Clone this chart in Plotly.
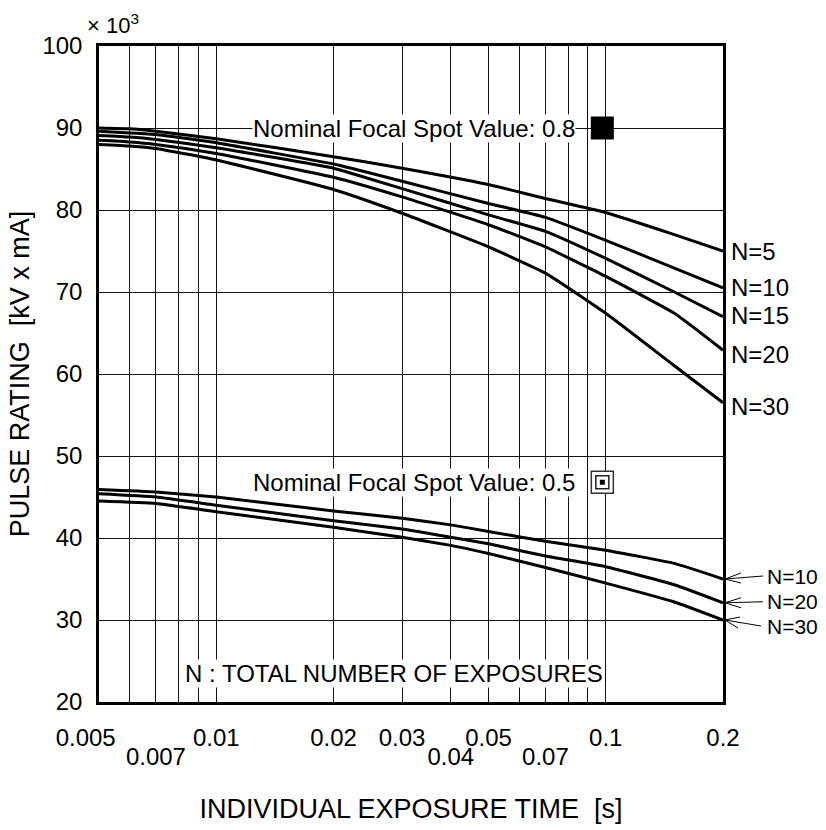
import plotly.graph_objects as go
import math

# ---------------- data ----------------
time_upper = [0.005, 0.006, 0.007, 0.01, 0.02, 0.03, 0.05, 0.07, 0.1, 0.15, 0.2]
upper_N = ["N=5", "N=10", "N=15", "N=20", "N=30"]
upper_vals = {
    "N=5":  [90.0, 89.9, 89.6, 88.7, 86.5, 85.1, 83.1, 81.4, 79.7, 77.0, 75.0],
    "N=10": [89.6, 89.4, 89.2, 88.2, 85.6, 83.5, 80.8, 79.1, 76.3, 72.9, 70.5],
    "N=15": [89.1, 88.9, 88.6, 87.6, 85.1, 82.6, 79.4, 77.4, 74.1, 70.0, 67.0],
    "N=20": [88.5, 88.3, 88.0, 86.9, 84.0, 81.6, 78.2, 75.5, 71.9, 67.4, 62.9],
    "N=30": [88.0, 87.8, 87.5, 86.1, 82.5, 79.6, 75.5, 72.3, 67.4, 61.0, 56.5],
}
upper_label_y = [74.9, 70.6, 67.1, 62.4, 56.0]

time_lower = [0.005, 0.007, 0.01, 0.02, 0.03, 0.04, 0.05, 0.07, 0.1, 0.15, 0.2]
lower_N = ["N=10", "N=20", "N=30"]
lower_vals = {
    "N=10": [45.9, 45.6, 45.0, 43.3, 42.4, 41.6, 40.8, 39.6, 38.5, 36.9, 35.0],
    "N=20": [45.4, 45.0, 44.0, 42.1, 41.1, 40.1, 39.3, 37.8, 36.5, 34.3, 32.1],
    "N=30": [44.5, 44.2, 43.2, 41.3, 40.1, 39.1, 38.1, 36.4, 34.5, 32.2, 30.0],
}

spot_labels = ["Nominal Focal Spot Value: 0.8", "Nominal Focal Spot Value: 0.5"]
spot_x = [0.098, 0.098]
spot_y = [90.0, 46.8]

x_ticks_top = [0.005, 0.01, 0.02, 0.03, 0.05, 0.1, 0.2]
x_ticks_top_text = ["0.005&nbsp;&nbsp;&nbsp;&nbsp;", "0.01", "0.02", "0.03", "0.05", "0.1", "0.2"]
x_ticks_bottom = [0.007, 0.04, 0.07]
x_ticks_bottom_text = ["0.007", "0.04", "0.07"]
x_grid = [0.006, 0.007, 0.008, 0.009, 0.01, 0.02, 0.03, 0.04, 0.05,
          0.06, 0.07, 0.08, 0.09, 0.1]
y_ticks = [20, 30, 40, 50, 60, 70, 80, 90, 100]

FONT = "Liberation Sans, Arial, sans-serif"

fig = go.Figure()

for n in upper_N:
    fig.add_trace(go.Scatter(x=time_upper, y=upper_vals[n], mode="lines",
                             line=dict(color="black", width=3, shape="spline", smoothing=0.4),
                             showlegend=False, hoverinfo="skip"))
for n in lower_N:
    fig.add_trace(go.Scatter(x=time_lower, y=lower_vals[n], mode="lines",
                             line=dict(color="black", width=3, shape="spline", smoothing=0.4),
                             showlegend=False, hoverinfo="skip"))

# invisible trace on the second (label-only) x axis
fig.add_trace(go.Scatter(x=x_ticks_bottom, y=[20] * len(x_ticks_bottom), xaxis="x2",
                         mode="markers", marker=dict(opacity=0), showlegend=False,
                         hoverinfo="skip"))

annotations = []
for lab, sx, sy in zip(spot_labels, spot_x, spot_y):
    annotations.append(dict(x=math.log10(sx), y=sy, xref="x", yref="y", text=lab,
                            showarrow=False, xanchor="right", yanchor="middle",
                            xshift=-26, bgcolor="white", borderpad=0,
                            font=dict(family=FONT, size=24, color="black")))

fig.add_trace(go.Scatter(x=[spot_x[0]], y=[spot_y[0]], mode="markers",
                         marker=dict(symbol="square", size=23, color="black"),
                         showlegend=False, hoverinfo="skip"))
fig.add_trace(go.Scatter(x=[spot_x[1]], y=[spot_y[1]], mode="markers",
                         marker=dict(symbol="square", size=22, color="white",
                                     line=dict(color="#333", width=1.5)),
                         showlegend=False, hoverinfo="skip"))
fig.add_trace(go.Scatter(x=[spot_x[1]], y=[spot_y[1]], mode="markers",
                         marker=dict(symbol="square-open", size=13, color="#222",
                                     line=dict(width=1.5)),
                         showlegend=False, hoverinfo="skip"))
fig.add_trace(go.Scatter(x=[spot_x[1]], y=[spot_y[1]], mode="markers",
                         marker=dict(symbol="square", size=5, color="black"),
                         showlegend=False, hoverinfo="skip"))

for n, ly in zip(upper_N, upper_label_y):
    annotations.append(dict(x=1, y=ly, xref="paper", yref="y", text=n,
                            showarrow=False, xanchor="left", yanchor="middle",
                            xshift=6, font=dict(family=FONT, size=24, color="black")))

lower_text_shift = [3, 1, -6]
arrow_paths = [
    "M 2,0 L 40,3 M 18,6 L 2,0 L 18,-4",
    "M 2,0 L 40,1 M 18,5 L 2,0 L 18,-5",
    "M 2,0 L 38,-6 M 17,3 L 2,0 L 15,-8",
]
shapes = []
for n, dy, pth in zip(lower_N, lower_text_shift, arrow_paths):
    yend = lower_vals[n][-1]
    annotations.append(dict(x=1, y=yend, xref="paper", yref="y", text=n,
                            showarrow=False, xanchor="left", yanchor="middle",
                            xshift=42, yshift=dy,
                            font=dict(family=FONT, size=21, color="black")))
    shapes.append(dict(type="path", xref="paper", yref="y", xsizemode="pixel",
                       ysizemode="pixel", xanchor=1, yanchor=yend, path=pth,
                       line=dict(color="black", width=1)))

annotations.append(dict(x=0.473, y=23.5, xref="paper", yref="y",
                        text="N : TOTAL NUMBER OF EXPOSURES", showarrow=False,
                        xanchor="center", yanchor="middle", bgcolor="white", borderpad=0,
                        font=dict(family=FONT, size=24, color="black")))

annotations.append(dict(x=0, y=1, xref="paper", yref="paper",
                        text="× 10<sup>3</sup>", showarrow=False,
                        xanchor="left", yanchor="bottom", xshift=-14, yshift=6,
                        font=dict(family=FONT, size=22, color="black")))

fig.update_layout(
    width=826, height=830,
    margin=dict(l=99, r=103, t=46, b=128),
    paper_bgcolor="white", plot_bgcolor="white",
    font=dict(family=FONT, size=24, color="black"),
    annotations=annotations,
    shapes=shapes,
    xaxis=dict(type="log", range=[math.log10(0.005), math.log10(0.2)],
               tickvals=x_ticks_top, ticktext=x_ticks_top_text,
               ticks="", ticklabelstandoff=12, automargin=False,
               showgrid=True, gridcolor="#111", gridwidth=1,
               minor=dict(tickvals=x_grid, showgrid=True, gridcolor="#111", gridwidth=1, ticks=""),
               showline=True, linecolor="black", linewidth=2.5, mirror=True,
               zeroline=False,
               tickfont=dict(family=FONT, size=24, color="black"),
               title=dict(text="INDIVIDUAL EXPOSURE TIME  [s]",
                          font=dict(family=FONT, size=27, color="black"), standoff=50)),
    xaxis2=dict(type="log", range=[math.log10(0.005), math.log10(0.2)], overlaying="x",
                anchor="y", side="bottom", matches="x", automargin=False,
                tickvals=x_ticks_bottom, ticktext=x_ticks_bottom_text,
                ticks="", ticklabelstandoff=38, showgrid=False, showline=False, zeroline=False,
                tickfont=dict(family=FONT, size=24, color="black")),
    yaxis=dict(range=[20, 100], tickvals=y_ticks, ticks="", ticklabelstandoff=9,
               automargin=False,
               showgrid=True, gridcolor="#111", gridwidth=1,
               showline=True, linecolor="black", linewidth=2.5, mirror=True, zeroline=False,
               tickfont=dict(family=FONT, size=24, color="black"),
               title=dict(text="PULSE RATING  [kV x mA]",
                          font=dict(family=FONT, size=27, color="black"), standoff=5)),
)

fig.write_html("out.html")
